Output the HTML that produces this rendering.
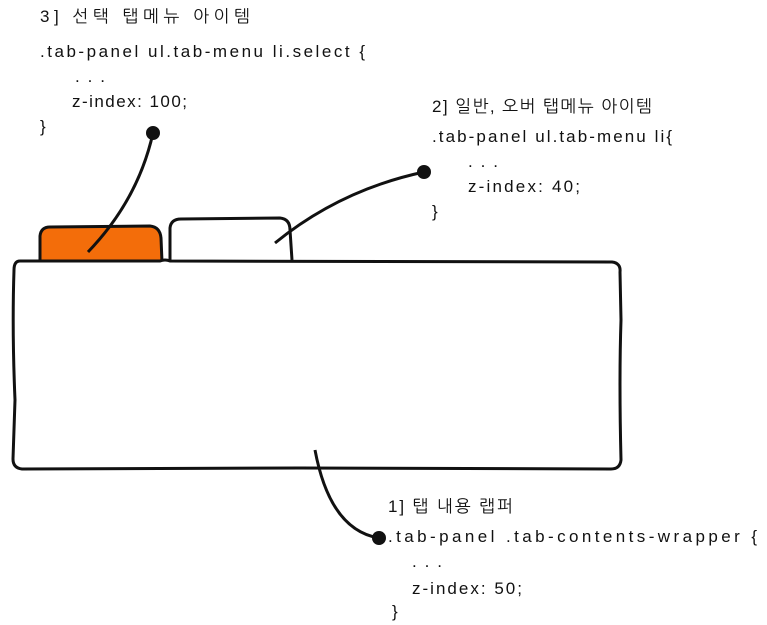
<!DOCTYPE html>
<html><head><meta charset="utf-8"><style>
html,body{margin:0;padding:0;background:#fff;}
body{width:767px;height:625px;position:relative;overflow:hidden;}
svg{position:absolute;left:0;top:0;}
text{font-family:"Liberation Sans","NanumGothic","Noto Sans CJK KR",sans-serif;font-size:17px;fill:#111;}
</style></head><body>
<svg width="767" height="625" viewBox="0 0 767 625">
  <path d="M40,266 L40,236 Q41,227 50,227 L150,226 Q160,227 161,238 L162,262 Z" fill="#f36d0a" stroke="#111" stroke-width="3"/>
  <path d="M170,261 L170,228 Q171,219 181,219 L280,218 Q290,219 290,230 L292,260" fill="#fff" stroke="#111" stroke-width="3"/>
  <path d="M20,261 L160,261 Q165,259 170,261 L612,262 Q621,263 620,272 L621,320 Q619,380 621,460 Q620,469 611,469 L300,468 L22,469 Q13,468 13,459 L15,400 Q12,330 14,270 Q14,261 20,261 Z" fill="#fff" stroke="#111" stroke-width="3"/>
  <path d="M153,133 Q138,200 88,252" fill="none" stroke="#111" stroke-width="3"/>
  <circle cx="153" cy="133" r="7" fill="#111"/>
  <path d="M424,172 Q340,190 275,243" fill="none" stroke="#111" stroke-width="3"/>
  <circle cx="424" cy="172" r="7" fill="#111"/>
  <path d="M315,450 Q330,530 379,538" fill="none" stroke="#111" stroke-width="3"/>
  <circle cx="379" cy="538" r="7" fill="#111"/>
  <g>
    <text x="40" y="22" textLength="210" lengthAdjust="spacing">3] 선택 탭메뉴 아이템</text>
    <text x="40" y="57" textLength="325" lengthAdjust="spacing">.tab-panel ul.tab-menu li.select  {</text>
    <text x="75" y="82" textLength="30" lengthAdjust="spacing">. . .</text>
    <text x="72" y="107" textLength="115" lengthAdjust="spacing">z-index: 100;</text>
    <text x="40" y="132">}</text>
  </g>
  <g>
    <text x="432" y="112" textLength="220" lengthAdjust="spacing">2] 일반, 오버 탭메뉴 아이템</text>
    <text x="432" y="142" textLength="240" lengthAdjust="spacing">.tab-panel ul.tab-menu li{</text>
    <text x="468" y="167" textLength="30" lengthAdjust="spacing">. . .</text>
    <text x="468" y="192" textLength="112" lengthAdjust="spacing">z-index: 40;</text>
    <text x="432" y="217">}</text>
  </g>
  <g>
    <text x="388" y="512" textLength="125" lengthAdjust="spacing">1] 탭 내용 랩퍼</text>
    <text x="388" y="542" textLength="369" lengthAdjust="spacing">.tab-panel .tab-contents-wrapper {</text>
    <text x="412" y="567" textLength="30" lengthAdjust="spacing">. . .</text>
    <text x="412" y="594" textLength="110" lengthAdjust="spacing">z-index: 50;</text>
    <text x="392" y="617">}</text>
  </g>
</svg>
</body></html>
